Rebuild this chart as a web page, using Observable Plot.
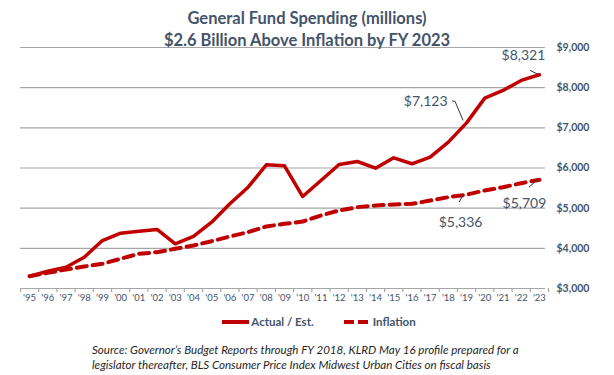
<!DOCTYPE html>
<html>
<head>
<meta charset="utf-8">
<script src="https://cdn.jsdelivr.net/npm/d3@7"></script>
<script src="https://cdn.jsdelivr.net/npm/@observablehq/plot@0.6"></script>
<style>
  html, body { margin: 0; padding: 0; background: #fff; }
  #wrap { position: relative; width: 614px; height: 375px; overflow: hidden; font-family: Lato, "Open Sans", sans-serif; }
  #title { position: absolute; left: 0; top: 7px; width: 614px; text-align: center; font-weight: bold; font-size: 16.5px; line-height: 22px; color: #44546a; }
  #legend { position: absolute; left: 12px; top: 315px; width: 614px; display: flex; justify-content: center; align-items: center; font-size: 11.5px; font-weight: bold; color: #44546a; }
  #legend .item { display: flex; align-items: center; }
  #legend svg { margin-right: 2px; }
  #caption { position: absolute; left: 92px; top: 342px; width: 520px; text-align: left; font-style: italic; font-size: 11.6px; line-height: 15px; color: #1f1f1f; }
  #chart { position: absolute; left: 0; top: 0; }
</style>
</head>
<body>
<div id="wrap">
  <div id="chart"></div>
  <div id="title"></div>
  <div id="legend"></div>
  <div id="caption"></div>
</div>
<script>
const titleLines = ["General Fund Spending (millions)", "$2.6 Billion Above Inflation by FY 2023"];
const captionLines = [
  "Source: Governor\u2019s Budget Reports through FY 2018, KLRD May 16 profile prepared for a",
  "legislator thereafter, BLS Consumer Price Index Midwest Urban Cities on fiscal basis"
];
const seriesNames = ["Actual / Est.", "Inflation"];

const years = [1995, 1996, 1997, 1998, 1999, 2000, 2001, 2002, 2003, 2004, 2005, 2006, 2007, 2008, 2009,
  2010, 2011, 2012, 2013, 2014, 2015, 2016, 2017, 2018, 2019, 2020, 2021, 2022, 2023];
const yearLabels = ["'95", "'96", "'97", "'98", "'99", "'00", "'01", "'02", "'03", "'04", "'05", "'06", "'07", "'08", "'09",
  "'10", "'11", "'12", "'13", "'14", "'15", "'16", "'17", "'18", "'19", "'20", "'21", "'22", "'23"];
const actual = [3306, 3430, 3530, 3780, 4195, 4377, 4427, 4470, 4113, 4295, 4650, 5108, 5522, 6080, 6055,
  5290, 5690, 6088, 6162, 5996, 6254, 6105, 6270, 6643, 7123, 7740, 7930, 8180, 8321];
const inflation = [3306, 3390, 3473, 3548, 3615, 3740, 3864, 3904, 3988, 4070, 4178, 4295, 4402, 4544, 4610,
  4668, 4818, 4942, 5025, 5067, 5092, 5108, 5190, 5274, 5336, 5440, 5522, 5622, 5709];
const yTicks = [3000, 4000, 5000, 6000, 7000, 8000, 9000];

const annotations = [
  {year: 2023, series: 0, text: "$8,321"},
  {year: 2019, series: 0, text: "$7,123"},
  {year: 2019, series: 1, text: "$5,336"},
  {year: 2023, series: 1, text: "$5,709"}
];

// build tables
const rowsA = years.map((y, i) => ({year: y, value: actual[i]}));
const rowsI = years.map((y, i) => ({year: y, value: inflation[i]}));
const labelOf = new Map(years.map((y, i) => [y, yearLabels[i]]));
const bounds = [years[0] - 0.5, ...years.map(y => y + 0.5)];
const valueOf = a => (a.series === 0 ? actual : inflation)[years.indexOf(a.year)];

const RED = "#c00000";
const SLATE = "#44546a";
const GRID = "#a6a6a6";

// annotation layout (pixel offsets)
const annLayout = [
  {dx: -16, dy: -19, anchor: "middle", leader: [[-9, -4], [-1, 0]]},
  {dx: -19, dy: -21, anchor: "end", leader: [[-14, -21.5], [-11, -21], [-3, -2]]},
  {dx: -6, dy: 28, anchor: "middle", leader: [[-7, 8], [-3, 1]]},
  {dx: -15, dy: 24, anchor: "middle", leader: [[-10, 8], [-2, 1]]}
];

const plot = Plot.plot({
  width: 614,
  height: 310,
  marginTop: 47,
  marginBottom: 22,
  marginLeft: 20,
  marginRight: 66,
  style: {fontFamily: "Lato, 'Open Sans', sans-serif", background: "transparent"},
  x: {domain: [years[0] - 0.5, years[years.length - 1] + 0.5], label: null},
  y: {domain: [yTicks[0], yTicks[yTicks.length - 1]], label: null},
  marks: [
    Plot.ruleY(yTicks, {stroke: GRID, strokeWidth: 1.2, insetRight: 3}),
    Plot.axisX({ticks: bounds, tickSize: 4, tickFormat: () => "", stroke: GRID, strokeWidth: 1.2, label: null}),
    Plot.axisX({ticks: years, tickSize: 0, tickPadding: 6, tickFormat: d => labelOf.get(d), fontSize: 9.5, fill: SLATE, label: null}),
    Plot.axisY({anchor: "right", ticks: yTicks, tickSize: 0, tickPadding: 8, textAnchor: "start",
      tickFormat: d => "$" + d3.format(",")(d), fontSize: 10.5, fontWeight: "bold", fill: SLATE, label: null}),
    Plot.lineY(rowsI, {x: "year", y: "value", stroke: RED, strokeWidth: 4, strokeDasharray: "10,6"}),
    Plot.lineY(rowsA, {x: "year", y: "value", stroke: RED, strokeWidth: 3.5}),
    ...annotations.map((a, i) => Plot.text([a], {
      x: "year", y: d => valueOf(d), text: "text",
      dx: annLayout[i].dx, dy: annLayout[i].dy, textAnchor: annLayout[i].anchor,
      fontSize: 14, fill: SLATE
    }))
  ]
});

document.getElementById("chart").appendChild(plot);

// leader lines via the plot's own scales
const sx = plot.scale("x"), sy = plot.scale("y");
const svg = d3.select(plot);
annotations.forEach((a, i) => {
  const px = sx.apply(a.year), py = sy.apply(valueOf(a));
  const pts = annLayout[i].leader.map(([ox, oy]) => [px + ox, py + oy]);
  svg.append("path")
    .attr("d", d3.line()(pts))
    .attr("fill", "none")
    .attr("stroke", "#333")
    .attr("stroke-width", 1);
});

// title
document.getElementById("title").innerHTML = titleLines.map(t => `<div>${t}</div>`).join("");
// caption
document.getElementById("caption").innerHTML = captionLines.map(t => `<div>${t}</div>`).join("");
// legend
const legend = document.getElementById("legend");
seriesNames.forEach((name, i) => {
  const item = document.createElement("div");
  item.className = "item";
  if (i > 0) item.style.marginLeft = "30px";
  const dash = i === 1 ? 'stroke-dasharray="10,4"' : "";
  item.innerHTML = `<svg width="27" height="8"><line x1="0" y1="4" x2="27" y2="4" stroke="${RED}" stroke-width="4" ${dash}/></svg><span>${name}</span>`;
  legend.appendChild(item);
});
</script>
</body>
</html>
